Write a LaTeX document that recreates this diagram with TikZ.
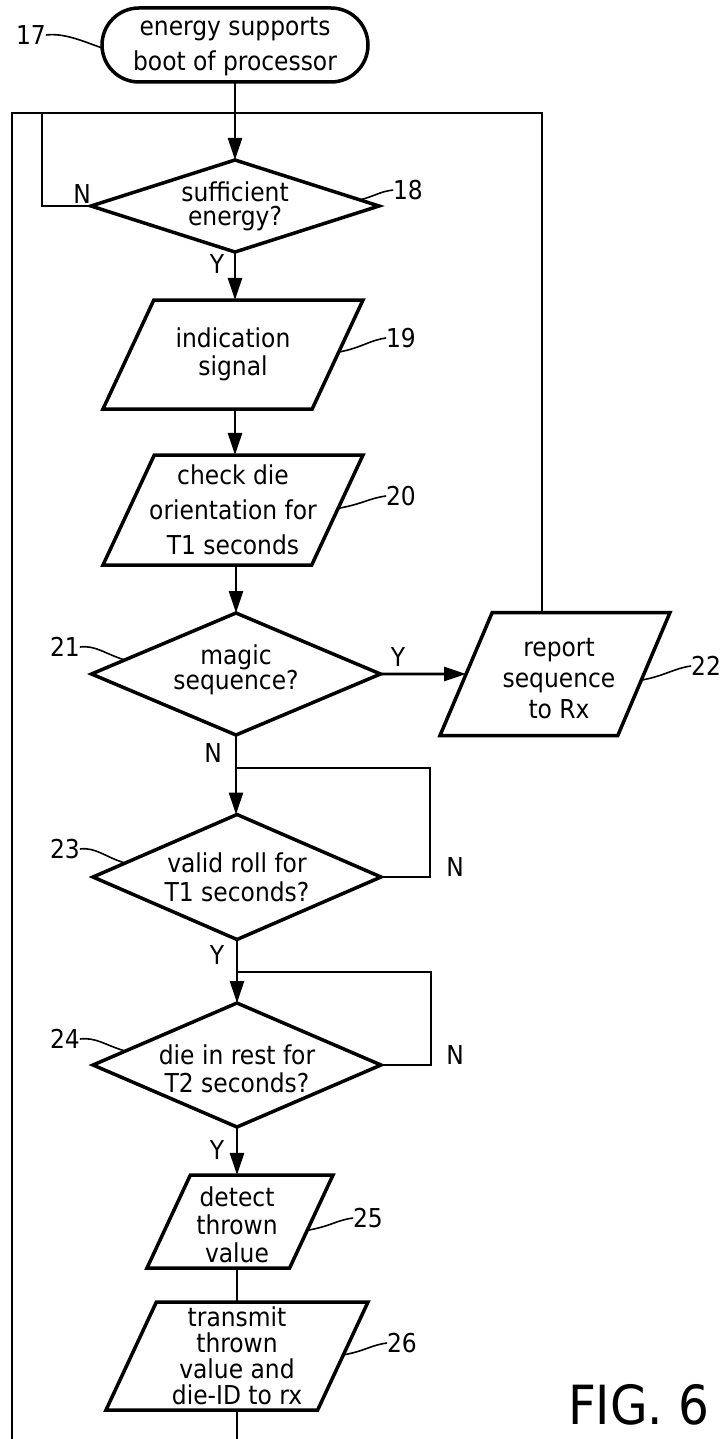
\documentclass[tikz,border=0pt]{standalone}
\usepackage{fontspec}
\setmainfont{DejaVu Sans Condensed}
\usetikzlibrary{shapes.geometric,arrows.meta}
\begin{document}
\begin{tikzpicture}[x=1pt,y=-1pt,
  every node/.style={inner sep=0pt,outer sep=0pt},
  shp/.style={draw,line width=3.5pt,align=center},
  dec/.style={shp,diamond},
  io/.style={shp,trapezium,trapezium left angle=65,trapezium right angle=115,trapezium stretches body},
  fs/.style={font=\fontsize{26}{#1}\selectfont,align=center},
  lbl/.style={font=\fontsize{26}{30}\selectfont},
  flow/.style={line width=2.6pt,-{Triangle[length=22pt,width=14pt]}},
  plain/.style={line width=2.6pt},
  thinl/.style={line width=1.8pt},
  sq/.style={line width=1.6pt},
]
\useasboundingbox (0,0) rectangle (724,1439);

% shapes
\node[shp,rectangle,rounded corners=37pt,minimum width=266pt,minimum height=74pt,
  label={[fs=35pt,yshift=-2pt]center:energy supports\\boot of processor}] (n17) at (235,45) {};
\node[dec,minimum width=288pt,minimum height=92pt,
  label={[fs=24pt]center:sufficient\\energy?}] (n18) at (235,206) {};
\node[io,minimum width=260pt,
  label={[fs=28pt]center:indication\\signal}] (n19) at (233,354.5) {\rule{0pt}{109pt}};
\node[io,minimum width=260pt,
  label={[fs=35pt]center:check die\\orientation for\\T1 seconds}] (n20) at (233,510) {\rule{0pt}{110pt}};
\node[dec,minimum width=289pt,minimum height=122pt,
  label={[fs=25pt,yshift=4pt]center:magic\\sequence?}] (n21) at (236,674) {};
\node[io,trapezium left angle=67,trapezium right angle=113,minimum width=230pt,
  label={[fs=31pt,yshift=-5pt,xshift=4pt]center:report\\sequence\\to Rx}] (n22) at (555,674) {\rule{0pt}{123pt}};
\node[dec,minimum width=288pt,minimum height=125pt,
  label={[fs=29pt]center:valid roll for\\T1 seconds?}] (n23) at (237,877) {};
\node[dec,minimum width=288pt,minimum height=124pt,
  label={[fs=28pt,yshift=-4pt]center:die in rest for\\T2 seconds?}] (n24) at (237,1065) {};
\node[io,minimum width=186pt,
  label={[fs=28pt,yshift=-3pt,xshift=-3pt]center:detect\\thrown\\value}] (n25) at (240,1221.5) {\rule{0pt}{93pt}};
\node[io,minimum width=262pt,
  label={[fs=26pt]center:transmit\\thrown\\value and\\die-ID to rx}] (n26) at (237,1356) {\rule{0pt}{108pt}};

% reference numerals
\node[lbl] (l17) at (31,35) {17};
\node[lbl] (l18) at (408,190) {18};
\node[lbl] (l19) at (401,338) {19};
\node[lbl] (l20) at (401,496) {20};
\node[lbl] (l21) at (65,647) {21};
\node[lbl] (l22) at (706,666) {22};
\node[lbl] (l23) at (65,849) {23};
\node[lbl] (l24) at (65,1039) {24};
\node[lbl] (l25) at (368,1218) {25};
\node[lbl] (l26) at (402,1343) {26};

\coordinate (s17) at (102,48);
\coordinate (s18) at (360,200);
\coordinate (s19) at (339,352);
\coordinate (s20) at (340,508);
\coordinate (s21) at (125,660);
\coordinate (s22) at (642,680);
\coordinate (s23) at (125,863);
\coordinate (s24) at (125,1051);
\coordinate (s25) at (309,1230);
\coordinate (s26) at (343,1355);

\draw[sq] (l17.east) .. controls +(18,-2) and +(-22,-8) .. (s17);
\draw[sq] (s18) .. controls +(20,-6) and +(-14,2) .. (l18.west);
\draw[sq] (s19) .. controls +(22,-4) and +(-16,2) .. (l19.west);
\draw[sq] (s20) .. controls +(22,-4) and +(-16,2) .. (l20.west);
\draw[sq] (l21.east) .. controls +(16,-2) and +(-20,-6) .. (s21);
\draw[sq] (s22) .. controls +(22,-4) and +(-16,2) .. (l22.west);
\draw[sq] (l23.east) .. controls +(16,-2) and +(-20,-6) .. (s23);
\draw[sq] (l24.east) .. controls +(16,-2) and +(-20,-6) .. (s24);
\draw[sq] (s25) .. controls +(22,-4) and +(-16,2) .. (l25.west);
\draw[sq] (s26) .. controls +(22,-4) and +(-16,2) .. (l26.west);

% Y / N labels
\node[lbl] (y18) at (217,264) {Y};
\node[lbl] (n18l) at (82,194) {N};
\node[lbl] (y21) at (398,657) {Y};
\node[lbl] (n21l) at (213,753) {N};
\node[lbl] (n23l) at (455,867) {N};
\node[lbl] (y23) at (217,955) {Y};
\node[lbl] (n24l) at (455,1055) {N};
\node[lbl] (y24) at (217,1150) {Y};

% frame coordinates
\coordinate (tl) at (12,113);
\coordinate (tr) at (542,113);
\coordinate (bl) at (12,1439);
\coordinate (ni) at (42,113);
\coordinate (r23) at (430,768);
\coordinate (r24) at (431,972);
\coordinate (b26) at (237,1439);

% connectors
\draw[flow] (n17.south -| n18.north) -- (n18.north);
\draw[flow] (n18.south) -- (n18.south |- n19.north);
\draw[flow] (n19.south -| n18.south) -- (n18.south |- n20.north);
\draw[flow] (n20.south -| n21.north) -- (n21.north);
\draw[flow] (n21.east) -- (n22);
\draw[flow] (n21.south) -- (n21.south |- n23.north);
\draw[flow] (n23.south) -- (n23.south |- n24.north);
\draw[flow] (n24.south) -- (n24.south |- n25.north);
\draw[plain] (n25.south -| n26.north) -- (n26.north);
\draw[plain] (n26.south) -- (b26);

\draw[thinl] (n22.north -| tr) -- (tr) -- (tl) -- (bl);
\draw[thinl] (n18.west) -- (n18.west -| ni) -- (ni);
\draw[thinl] (n23.east) -- (n23.east -| r23) -- (r23) -- (r23 -| n23.north);
\draw[thinl] (n24.east) -- (n24.east -| r24) -- (r24) -- (r24 -| n24.north);

\node[font=\fontsize{54}{58}\selectfont,anchor=base west] (fig) at (568,1424) {FIG. 6};
\end{tikzpicture}
\end{document}
